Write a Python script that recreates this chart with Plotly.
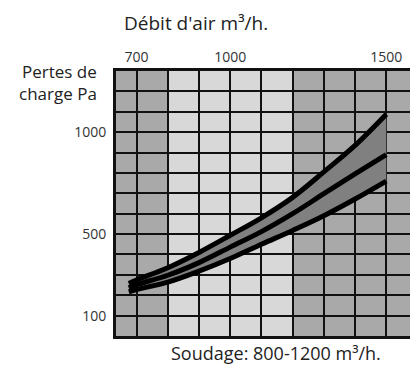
import plotly.graph_objects as go

# Data
flow = [675, 700, 800, 900, 1000, 1100, 1200, 1300, 1400, 1500]
loss_high = [258, 275, 335, 410, 494, 580, 680, 805, 935, 1088]
loss_mid = [237, 252, 298, 360, 436, 512, 600, 698, 795, 890]
loss_low = [217, 228, 264, 318, 380, 450, 518, 590, 672, 760]

x_ticks = [700, 1000, 1500]
y_ticks = [100, 500, 1000]
x_grid = list(range(700, 1600, 100))
y_grid = list(range(100, 1300, 100))

# background column bands (start, end, colour)
band_edges = [634, 800, 1200, 1580]
band_colors = ["#a9a9a9", "#d8d8d8", "#a9a9a9"]

X_RANGE = [634, 1576]
Y_RANGE = [0, 1300]

FONT = "Open Sans"

fig = go.Figure()

fig.add_trace(go.Scatter(x=flow, y=loss_low, mode="lines",
                         line=dict(color="black", width=5, shape="spline", smoothing=1.0),
                         hoverinfo="skip", showlegend=False))
fig.add_trace(go.Scatter(x=flow, y=loss_high, mode="lines", fill="tonexty",
                         fillcolor="#808080",
                         line=dict(color="black", width=5, shape="spline", smoothing=1.0),
                         hoverinfo="skip", showlegend=False))
fig.add_trace(go.Scatter(x=flow, y=loss_mid, mode="lines",
                         line=dict(color="black", width=5, shape="spline", smoothing=1.0),
                         hoverinfo="skip", showlegend=False))

for i, c in enumerate(band_colors):
    fig.add_shape(type="rect", xref="x", yref="y",
                  x0=band_edges[i], x1=band_edges[i + 1], y0=Y_RANGE[0], y1=Y_RANGE[1],
                  fillcolor=c, line=dict(width=0), layer="below")

fig.update_xaxes(range=X_RANGE, side="top", tickvals=x_grid,
                 ticktext=[str(v) if v in x_ticks else "" for v in x_grid],
                 showgrid=True, gridcolor="#111111", gridwidth=2,
                 showline=True, linecolor="#111111", linewidth=3, mirror=True,
                 ticks="", zeroline=False,
                 tickfont=dict(family=FONT, size=14, color="#333333"))
fig.update_yaxes(range=Y_RANGE, tickvals=y_grid,
                 ticktext=[str(v) if v in y_ticks else "" for v in y_grid],
                 showgrid=True, gridcolor="#111111", gridwidth=2,
                 showline=True, linecolor="#111111", linewidth=3,
                 ticks="", zeroline=False, ticklabelstandoff=4,
                 tickfont=dict(family=FONT, size=14, color="#333333"))

fig.add_annotation(text="Débit d'air m³/h.", xref="paper", yref="paper",
                   x=(196 - 116) / 294, y=1 + (71 - 23) / 265, showarrow=False,
                   xanchor="center", yanchor="middle",
                   font=dict(family=FONT, size=19, color="#222222"))
fig.add_annotation(text="Pertes de<br>charge Pa", xref="paper", yref="paper",
                   x=-(116 - 99) / 294, y=1 + (71 - 82) / 265, showarrow=False,
                   xanchor="right", yanchor="middle", align="right",
                   font=dict(family=FONT, size=17, color="#222222"))
fig.add_annotation(text="Soudage: 800-1200 m³/h.", xref="paper", yref="paper",
                   x=(276 - 116) / 294, y=-(353 - 336) / 265, showarrow=False,
                   xanchor="center", yanchor="middle",
                   font=dict(family=FONT, size=18, color="#222222"))

fig.update_layout(width=410, height=367,
                  margin=dict(l=116, r=0, t=71, b=31),
                  paper_bgcolor="white", plot_bgcolor="#a9a9a9",
                  showlegend=False)

fig.write_html("out.html", config={"displayModeBar": False},
               post_script="document.body.style.margin='0';document.body.style.overflow='hidden';")
